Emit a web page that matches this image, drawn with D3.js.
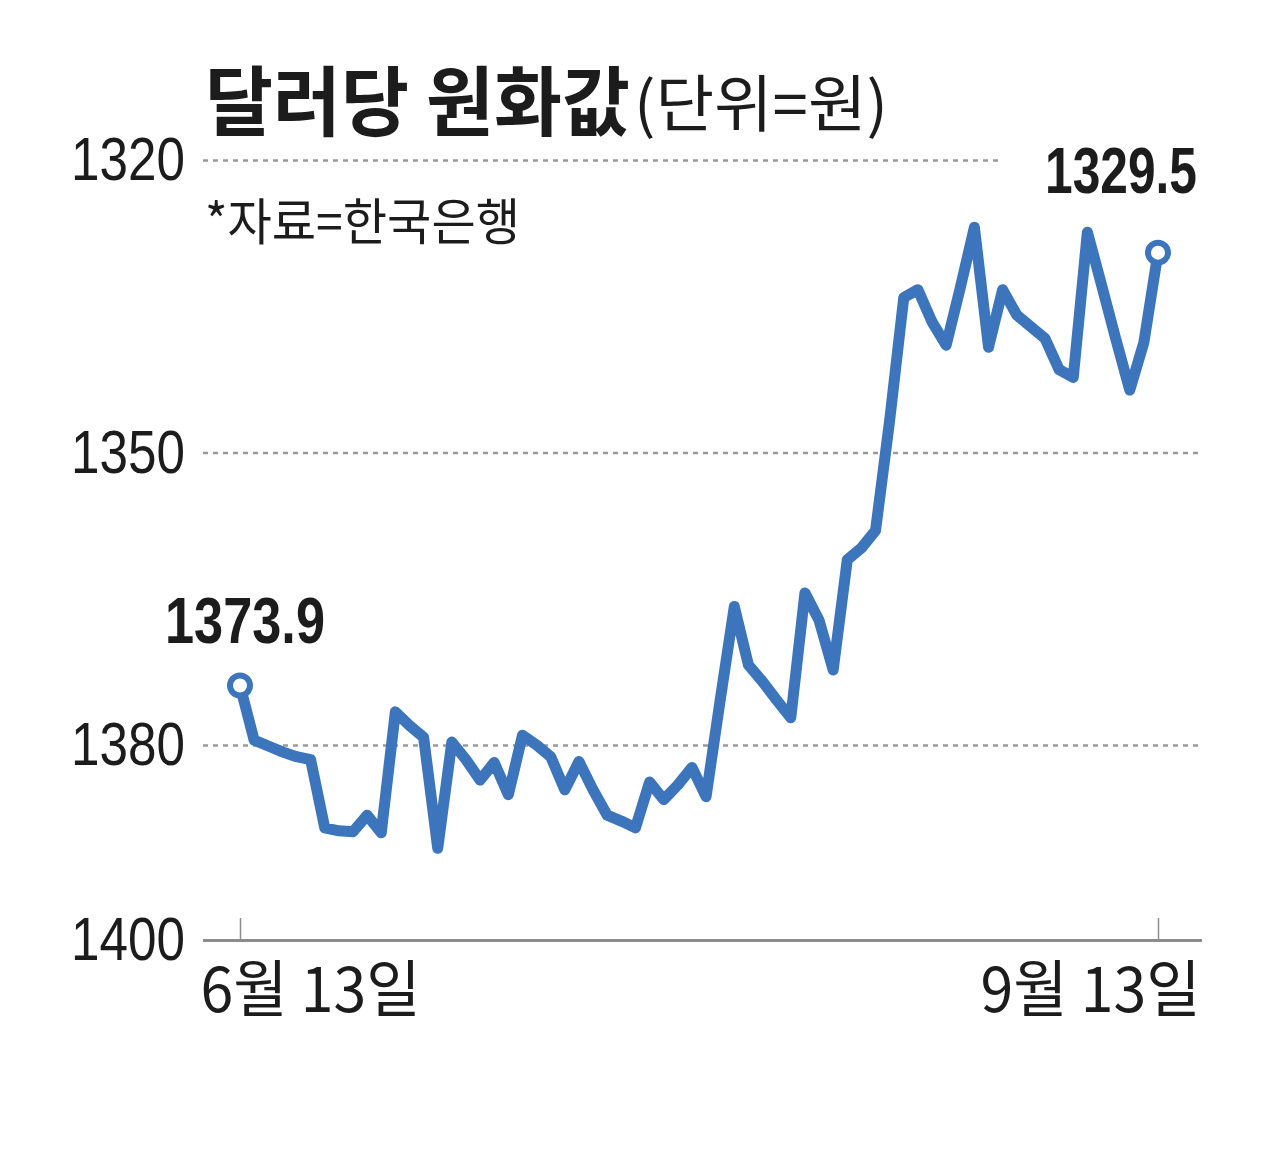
<!DOCTYPE html>
<html><head><meta charset="utf-8">
<script src="https://cdn.jsdelivr.net/npm/d3@7"></script>
<style>html,body{margin:0;padding:0;background:#fff;} svg{display:block;}</style>
</head><body>
<svg id="chart" width="1280" height="1157"></svg>
<script>
// ---- data ----
const dates = [
  "2024-06-13","2024-06-14","2024-06-17","2024-06-18","2024-06-19","2024-06-20","2024-06-21",
  "2024-06-24","2024-06-25","2024-06-26","2024-06-27","2024-06-28",
  "2024-07-01","2024-07-02","2024-07-03","2024-07-04","2024-07-05",
  "2024-07-08","2024-07-09","2024-07-10","2024-07-11","2024-07-12",
  "2024-07-15","2024-07-16","2024-07-17","2024-07-18","2024-07-19",
  "2024-07-22","2024-07-23","2024-07-24","2024-07-25","2024-07-26",
  "2024-07-29","2024-07-30","2024-07-31",
  "2024-08-01","2024-08-02","2024-08-05","2024-08-06","2024-08-07","2024-08-08","2024-08-09",
  "2024-08-12","2024-08-13","2024-08-14","2024-08-16",
  "2024-08-19","2024-08-20","2024-08-21","2024-08-22","2024-08-23",
  "2024-08-26","2024-08-27","2024-08-28","2024-08-29","2024-08-30",
  "2024-09-02","2024-09-03","2024-09-04","2024-09-05","2024-09-06",
  "2024-09-09","2024-09-10","2024-09-11","2024-09-12","2024-09-13"
];
const rates = [
  1373.9, 1379.5, 1380.1, 1380.7, 1381.2, 1381.5, 1388.5, 1388.8, 1388.9, 1387.2,
  1389.0, 1376.6, 1378.0, 1379.2, 1390.6, 1379.7, 1381.5, 1383.6, 1381.8, 1385.1,
  1379.0, 1380.0, 1381.2, 1384.6, 1381.7, 1384.6, 1387.2, 1387.8, 1388.5, 1383.8,
  1385.6, 1384.1, 1382.3, 1385.3, 1375.4, 1365.8, 1371.8, 1373.5, 1375.4, 1377.2,
  1364.4, 1367.2, 1372.3, 1361.0, 1359.8, 1358.0, 1346.7, 1334.1, 1333.3, 1336.6,
  1339.0, 1333.1, 1326.9, 1339.2, 1333.3, 1335.9, 1337.1, 1338.3, 1341.5, 1342.3,
  1327.4, 1332.8, 1338.3, 1343.6, 1338.7, 1329.5
];
const yTicks = [1320, 1350, 1380, 1400];
const xTickDates = ["2024-06-13", "2024-09-13"];
const xTickLabels = ["6월 13일", "9월 13일"];
const titleMain = "달러당 원화값";
const titleUnit = "(단위=원)";
const sourceNote = "*자료=한국은행";

// ---- chart ----
const svg = d3.select("#chart");
const BLUE = "#3d75bc";
const INK = "#1c1c1c";
const NUM_FONT = "'Liberation Sans', Arial, sans-serif";
const KR_FONT = "'Noto Sans CJK KR', 'Noto Sans', sans-serif";

const x = d3.scalePoint().domain(dates).range([240, 1158]);
const y = d3.scaleLinear().domain([1320, 1400]).range([160, 940]);
const left = 203, right = 1202;

// y axis with grid lines
const yAxis = svg.append("g")
  .attr("transform", `translate(${left},0)`)
  .call(d3.axisLeft(y).tickValues(yTicks).tickSize(-(right - left)).tickPadding(18).tickFormat(d3.format("d")));
yAxis.select(".domain").remove();
yAxis.selectAll(".tick line")
  .attr("stroke", d => d === 1400 ? "#8c8c8c" : "#9a9a9a")
  .attr("stroke-width", d => d === 1400 ? 3 : 2.5)
  .attr("stroke-dasharray", d => d === 1400 ? null : "5,5");
yAxis.selectAll(".tick text")
  .attr("fill", INK)
  .style("font-family", NUM_FONT)
  .style("font-size", "62px")
  .attr("textLength", 114)
  .attr("lengthAdjust", "spacingAndGlyphs");

// x axis ticks
const xAxis = svg.append("g")
  .attr("transform", `translate(0,${y(1400)})`)
  .call(d3.axisBottom(x).tickValues(xTickDates).tickSize(-22).tickPadding(0)
        .tickFormat((d, i) => xTickLabels[i]));
xAxis.select(".domain").remove();
xAxis.selectAll(".tick line").attr("stroke", "#8c8c8c").attr("stroke-width", 1.5);
xAxis.selectAll(".tick text")
  .attr("fill", INK)
  .attr("y", 72)
  .attr("dy", 0)
  .attr("x", (d, i) => i === 0 ? -40 : 42)
  .attr("text-anchor", (d, i) => i === 0 ? "start" : "end")
  .style("font-family", KR_FONT)
  .style("font-size", "62px")
  .attr("textLength", 220)
  .attr("lengthAdjust", "spacingAndGlyphs");

// title
svg.append("text")
  .attr("x", 205).attr("y", 130)
  .attr("fill", INK)
  .style("font-family", KR_FONT).style("font-weight", 700).style("font-size", "76px")
  .attr("textLength", 425).attr("lengthAdjust", "spacingAndGlyphs")
  .text(titleMain);
svg.append("text")
  .attr("x", 634).attr("y", 127)
  .attr("fill", INK)
  .style("font-family", KR_FONT).style("font-weight", 400).style("font-size", "62px")
  .attr("textLength", 254).attr("lengthAdjust", "spacingAndGlyphs")
  .text(titleUnit);

// source note
svg.append("text")
  .attr("x", 205).attr("y", 240)
  .attr("fill", INK)
  .style("font-family", KR_FONT).style("font-weight", 400).style("font-size", "50px")
  .attr("textLength", 315).attr("lengthAdjust", "spacingAndGlyphs")
  .text(sourceNote);

// line
const line = d3.line().x((d, i) => x(dates[i])).y(d => y(d));
svg.append("path")
  .datum(rates)
  .attr("d", line)
  .attr("fill", "none")
  .attr("stroke", BLUE)
  .attr("stroke-width", 11)
  .attr("stroke-linejoin", "round")
  .attr("stroke-linecap", "round");

// end markers
const ends = [0, rates.length - 1];
svg.selectAll("circle.end").data(ends).enter().append("circle")
  .attr("class", "end")
  .attr("cx", i => x(dates[i])).attr("cy", i => y(rates[i]))
  .attr("r", 10)
  .attr("fill", "#fff")
  .attr("stroke", BLUE)
  .attr("stroke-width", 6);

// end value labels
const fmt = d3.format(".1f");
const firstI = 0, lastI = rates.length - 1;
// white backing behind last label to interrupt grid line
svg.append("rect")
  .attr("x", 1000).attr("y", 140).attr("width", 202).attr("height", 60)
  .attr("fill", "#fff");
svg.append("text")
  .attr("x", x(dates[lastI]) + 39).attr("y", 193)
  .attr("text-anchor", "end")
  .attr("fill", INK)
  .style("font-family", NUM_FONT).style("font-weight", 700).style("font-size", "64px")
  .attr("textLength", 152).attr("lengthAdjust", "spacingAndGlyphs")
  .text(fmt(rates[lastI]));
svg.append("text")
  .attr("x", x(dates[firstI]) + 5).attr("y", 643)
  .attr("text-anchor", "middle")
  .attr("fill", INK)
  .style("font-family", NUM_FONT).style("font-weight", 700).style("font-size", "64px")
  .attr("textLength", 160).attr("lengthAdjust", "spacingAndGlyphs")
  .text(fmt(rates[firstI]));
</script>
</body></html>
